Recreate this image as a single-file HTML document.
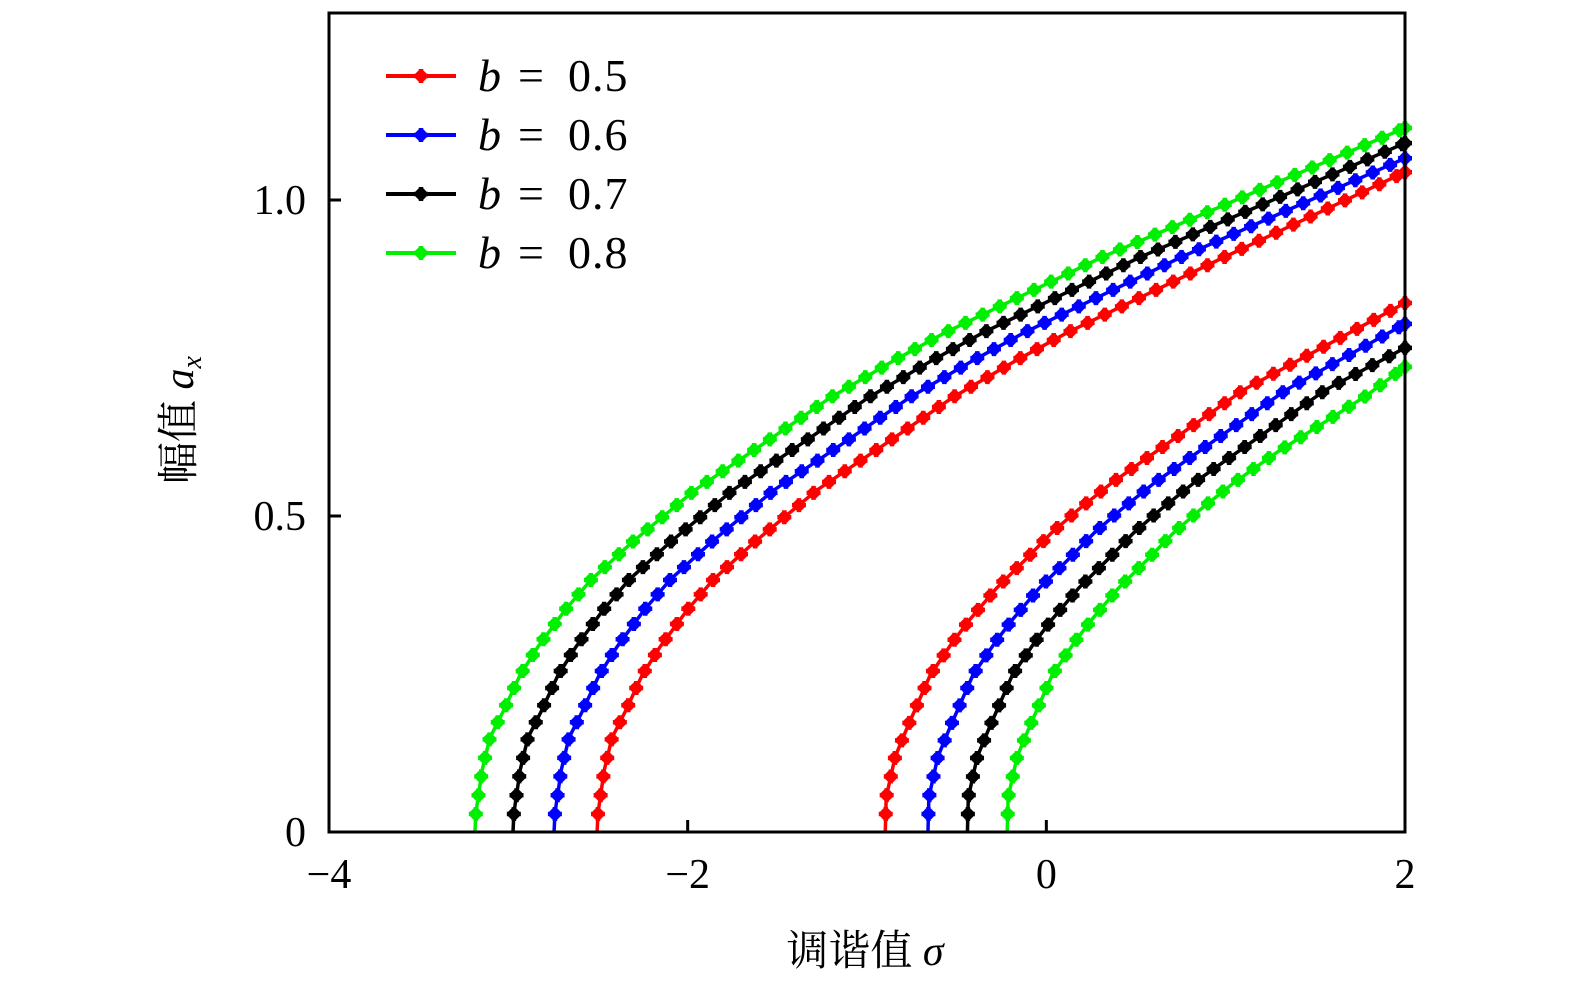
<!DOCTYPE html>
<html><head><meta charset="utf-8"><style>
html,body{margin:0;padding:0;background:#fff;}
svg text{font-family:"Liberation Serif","Noto Serif CJK SC",serif;}
</style></head><body>
<svg id="chart" width="1575" height="994" xmlns="http://www.w3.org/2000/svg">
<g id="series"></g>
<rect x="329" y="13" width="1076" height="819" fill="none" stroke="#000" stroke-width="3"/>
<g id="axes"></g>
<text x="865" y="965" font-size="42" text-anchor="middle" font-family="'Noto Serif CJK SC',serif">调谐值 <tspan font-style="italic" font-family="'Liberation Serif',serif">σ</tspan></text>
<text transform="translate(193,420) rotate(-90)" font-size="42" text-anchor="middle" font-family="'Noto Serif CJK SC',serif">幅值 <tspan font-style="italic" font-family="'Liberation Serif',serif">a</tspan><tspan font-style="italic" font-size="28" dy="8" font-family="'Liberation Serif',serif">x</tspan></text>
<g id="legend"></g>
</svg>
<script>
const labels=["b = 0.5","b = 0.6","b = 0.7","b = 0.8"];
const colors=["#ff0000","#0000ff","#000000","#00ee00"];
const upperX=[
[-2.505,-2.5,-2.465,-2.422,-2.349,-2.254,-2.154,-2.003,-1.858,-1.635,-1.279,-0.888,-0.52,-0.163,0.116,0.995,2],
[-2.745,-2.74,-2.705,-2.662,-2.589,-2.494,-2.394,-2.243,-2.098,-1.875,-1.519,-1.128,-0.76,-0.403,-0.124,0.755,2],
[-2.974,-2.969,-2.934,-2.891,-2.818,-2.723,-2.623,-2.472,-2.327,-2.104,-1.748,-1.357,-0.989,-0.632,-0.353,0.526,2],
[-3.186,-3.181,-3.146,-3.103,-3.03,-2.935,-2.835,-2.684,-2.539,-2.316,-1.96,-1.569,-1.201,-0.844,-0.565,0.314,2]];
const upperY=[
[0,0.03,0.098,0.149,0.19,0.248,0.293,0.351,0.399,0.457,0.541,0.616,0.688,0.747,0.79,0.91,1.044],
[0,0.03,0.098,0.149,0.19,0.248,0.293,0.351,0.399,0.457,0.541,0.616,0.688,0.747,0.79,0.91,1.066],
[0,0.03,0.098,0.149,0.19,0.248,0.293,0.351,0.399,0.457,0.541,0.616,0.688,0.747,0.79,0.91,1.09],
[0,0.03,0.098,0.149,0.19,0.248,0.293,0.351,0.399,0.457,0.541,0.616,0.688,0.747,0.79,0.91,1.114]];
const lowerX=[
[-0.898,-0.893,-0.843,-0.776,-0.648,-0.526,-0.43,-0.277,-0.12,0.028,0.178,0.363,0.602,1.102,2],
[-0.66,-0.655,-0.605,-0.538,-0.41,-0.288,-0.192,-0.039,0.118,0.266,0.416,0.601,0.84,1.34,2],
[-0.44,-0.435,-0.385,-0.318,-0.19,-0.068,0.028,0.181,0.338,0.486,0.636,0.821,1.06,1.56,2],
[-0.218,-0.213,-0.163,-0.096,0.032,0.154,0.25,0.403,0.56,0.708,0.858,1.043,1.282,1.782,2]];
const lowerY=[
[0,0.055,0.119,0.165,0.248,0.299,0.335,0.386,0.43,0.473,0.51,0.552,0.6,0.7,0.837],
[0,0.055,0.119,0.165,0.248,0.299,0.335,0.386,0.43,0.473,0.51,0.552,0.6,0.7,0.804],
[0,0.055,0.119,0.165,0.248,0.299,0.335,0.386,0.43,0.473,0.51,0.552,0.6,0.7,0.766],
[0,0.055,0.119,0.165,0.248,0.299,0.335,0.386,0.43,0.473,0.51,0.552,0.6,0.69,0.736]];
const xTicks=[-4,-2,0,2];
const xTickLabels=["−4","−2","0","2"];
const yTicks=[0,0.5,1.0];
const yTickLabels=["0","0.5","1.0"];

const NS="http://www.w3.org/2000/svg";
const X=v=>329+(v+4)*(1076/6);
const Y=v=>832-v*632;
function mk(t,a,p){const e=document.createElementNS(NS,t);for(const k in a)e.setAttribute(k,a[k]);p.appendChild(e);return e;}
function pathD(xs,ys){
  return xs.map((x,i)=>(i?"L":"M")+X(x).toFixed(2)+","+Y(ys[i]).toFixed(2)).join(" ");
}
function marker(g,x,y,c){
  const m=mk("path",{d:`M${x-7},${y}H${x+7}M${x},${y-7}V${y+7}M${x-4},${y-4}L${x+4},${y+4}M${x-4},${y+4}L${x+4},${y-4}`,stroke:c,"stroke-width":4.5,fill:"none"},g);
  
  
}
const sg=document.getElementById('series');
function drawSeries(xs,ys,c,name){
  const g=mk("g",{},sg);
  
  
  const p=mk("path",{d:pathD(xs,ys),fill:"none",stroke:c,"stroke-width":3.5},g);
  
  
  const L=p.getTotalLength();
  for(let s=18;s<=L;s+=19){const pt=p.getPointAtLength(s);marker(g,pt.x,pt.y,c);}
  const e=p.getPointAtLength(L);marker(g,e.x,e.y,c);
}
for(let i=0;i<4;i++){
  drawSeries(upperX[i],upperY[i],colors[i],'upper-branch-'+(i+1));
  drawSeries(lowerX[i],lowerY[i],colors[i],'lower-branch-'+(i+1));
}
const ax=document.getElementById('axes');
xTicks.forEach((v,i)=>{
  const t=mk("line",{x1:X(v),x2:X(v),y1:832,y2:820,stroke:"#000","stroke-width":3},ax);
  
  
  const l=mk("text",{x:X(v),y:888,"font-size":42,"text-anchor":"middle"},ax);
  l.textContent=xTickLabels[i];
  
  
});
yTicks.forEach((v,i)=>{
  const t=mk("line",{x1:329,x2:341,y1:Y(v),y2:Y(v),stroke:"#000","stroke-width":3},ax);
  
  
  const l=mk("text",{x:306,y:Y(v)+14,"font-size":42,"text-anchor":"end"},ax);
  l.textContent=yTickLabels[i];
  
  
});
const lg=document.getElementById('legend');
labels.forEach((t,i)=>{
  const y=76+i*59;
  const g=mk("g",{},lg);
  
  
  mk("line",{x1:386,x2:456,y1:y,y2:y,stroke:colors[i],"stroke-width":4},g);
  marker(g,421,y,colors[i]);
  const tx=mk("text",{x:478,y:y+15,"font-size":46},g);
  const parts=t.split(" = ");
  const b=mk("tspan",{"font-style":"italic",x:478},tx);b.textContent=parts[0];
  const e=mk("tspan",{x:518},tx);e.textContent="=";
  const r=mk("tspan",{x:568,"letter-spacing":"1"},tx);r.textContent=parts[1];
  
  
});
</script>
</body></html>
